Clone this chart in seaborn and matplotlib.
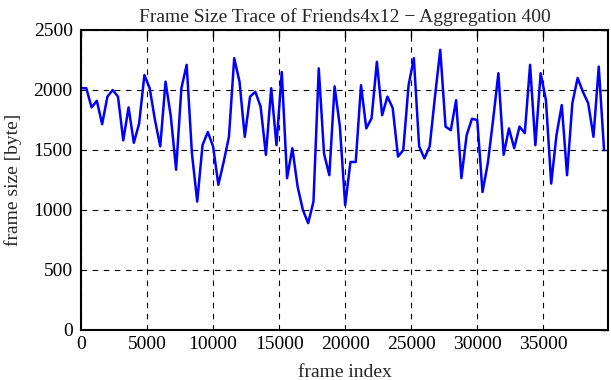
import numpy as np
import pandas as pd
import matplotlib
matplotlib.use("Agg")
import matplotlib.pyplot as plt
import seaborn as sns

frame_index = list(range(0, 39601, 400))
frame_size = [
    2015, 2015, 1855, 1910, 1715, 1945, 2000, 1945, 1580, 1855,
    1560, 1720, 2125, 2015, 1750, 1530, 2070, 1780, 1335, 2015,
    2210, 1470, 1070, 1540, 1650, 1530, 1210, 1400, 1610, 2265,
    2070, 1610, 1945, 1985, 1860, 1460, 2015, 1540, 2150, 1265,
    1515, 1195, 1000, 890, 1070, 2180, 1470, 1290, 2030, 1695,
    1040, 1400, 1400, 2040, 1680, 1765, 2235, 1790, 1945, 1850,
    1445, 1500, 2040, 2265, 1530, 1430, 1530, 1945, 2335, 1695,
    1665, 1915, 1265, 1625, 1760, 1750, 1150, 1390, 1750, 2140,
    1460, 1680, 1515, 1695, 1640, 2210, 1540, 2140, 1915, 1220,
    1625, 1875, 1290, 1890, 2100, 1985, 1890, 1610, 2195, 1500,
]
x_ticks = [0, 5000, 10000, 15000, 20000, 25000, 30000, 35000]
y_ticks = [0, 500, 1000, 1500, 2000, 2500]
title = "Frame Size Trace of Friends4x12 \u2212 Aggregation 400"
x_label = "frame index"
y_label = "frame size [byte]"

sns.set_style("white")
plt.rcParams['font.family'] = ['Liberation Serif', 'DejaVu Serif']

df = pd.DataFrame({"frame index": frame_index, "frame size": frame_size})

fig = plt.figure(figsize=(6.11, 3.80), dpi=100)
ax = fig.add_axes([81/611, 1 - 330/380, (608 - 81)/611, 300/380])
sns.lineplot(data=df, x="frame index", y="frame size", ax=ax, color=(0, 0, 1), lw=1.8)

ax.set_xlim(0, 39900)
ax.set_ylim(0, 2500)
ax.set_xticks(x_ticks)
ax.set_yticks(y_ticks)
ax.set_xticklabels([str(t) for t in x_ticks])
ax.set_yticklabels([str(t) for t in y_ticks])
ax.tick_params(direction="in", length=5, width=1, top=True, right=True,
               labelsize=14, colors="black", pad=6)
ax.tick_params(axis="x", pad=4)
ax.grid(True, color="black", linestyle=(0, (5, 5)), linewidth=0.8)
for s in ax.spines.values():
    s.set_color("black")
    s.set_linewidth(1.5)
ax.set_xlabel(x_label, fontsize=14, labelpad=8)
ax.set_ylabel(y_label, fontsize=14, labelpad=8)
ax.set_title(title, fontsize=14, pad=6)

fig.savefig("out.png", dpi=100)
